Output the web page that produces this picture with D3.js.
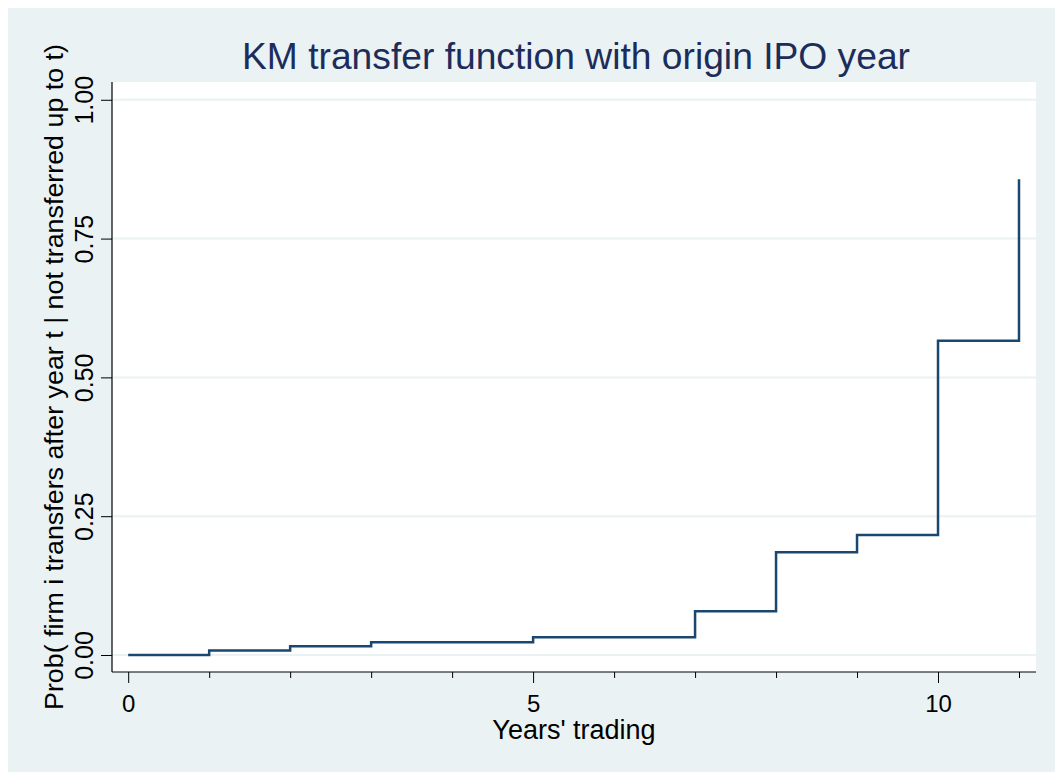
<!DOCTYPE html>
<html>
<head>
<meta charset="utf-8">
<script src="https://cdn.jsdelivr.net/npm/d3@7"></script>
<style>
  body { margin: 0; background: #ffffff; }
  svg { display: block; font-family: "Liberation Sans", Arial, sans-serif; }
</style>
</head>
<body>
<svg id="chart"></svg>
<script>
// data
var years = [0, 1, 2, 3, 4, 5, 6, 7, 8, 9, 10, 11];
var prob = [0, 0.008, 0.016, 0.023, 0.023, 0.032, 0.032, 0.079, 0.185, 0.216, 0.566, 0.857];
var xMajor = [0, 5, 10];
var xMinor = [1, 2, 3, 4, 6, 7, 8, 9, 11];
var yTicks = [0, 0.25, 0.5, 0.75, 1];

var W = 1055, H = 772;
var plot = {left: 112, right: 1036, top: 82, bottom: 672};

var svg = d3.select("#chart").attr("width", W).attr("height", H);

// outer background
svg.append("rect")
  .attr("x", 8).attr("y", 8)
  .attr("width", W - 8).attr("height", H - 8)
  .attr("fill", "#eaf2f3");

// plot region
svg.append("rect")
  .attr("x", plot.left).attr("y", plot.top)
  .attr("width", plot.right - plot.left).attr("height", plot.bottom - plot.top)
  .attr("fill", "#ffffff");

var x = d3.scaleLinear().domain([-0.2, 11.21]).range([plot.left, plot.right]);
var y = d3.scaleLinear().domain([-0.0306, 1.032]).range([plot.bottom, plot.top]);

// gridlines
svg.append("g")
  .selectAll("line")
  .data(yTicks)
  .enter()
  .append("line")
    .attr("x1", plot.left).attr("x2", plot.right)
    .attr("y1", d => y(d)).attr("y2", d => y(d))
    .attr("stroke", "#eaf2f3")
    .attr("stroke-width", 2);

// step line
var line = d3.line()
  .x(d => x(d[0]))
  .y(d => y(d[1]))
  .curve(d3.curveStepAfter);

svg.append("path")
  .datum(years.map((t, i) => [t, prob[i]]))
  .attr("d", line)
  .attr("fill", "none")
  .attr("stroke", "#1a476f")
  .attr("stroke-width", 2.5);

// x axis (major + minor ticks)
var xAxis = svg.append("g")
  .attr("transform", "translate(0," + plot.bottom + ")")
  .call(d3.axisBottom(x).tickValues(xMajor).tickFormat(d3.format("d")).tickSize(11).tickPadding(12));
svg.append("g")
  .attr("transform", "translate(0," + plot.bottom + ")")
  .call(d3.axisBottom(x).tickValues(xMinor).tickFormat("").tickSize(6))
  .select(".domain").remove();

// y axis
var yAxis = svg.append("g")
  .attr("transform", "translate(" + plot.left + ",0)")
  .call(d3.axisLeft(y).tickValues(yTicks).tickFormat(d3.format(".2f")).tickSize(11));

[xAxis, yAxis].forEach(function(g) {
  g.selectAll("text").attr("font-size", "24px").attr("fill", "#000").attr("font-family", "Liberation Sans, Arial, sans-serif");
  g.selectAll("line").attr("stroke", "#000");
});
svg.selectAll(".tick line").attr("stroke", "#000");

// axis lines drawn explicitly over the plot edge
xAxis.select(".domain").remove();
yAxis.select(".domain").remove();
svg.append("line")
  .attr("x1", plot.left).attr("x2", plot.right)
  .attr("y1", plot.bottom).attr("y2", plot.bottom)
  .attr("stroke", "#000").attr("stroke-width", 1.2);
svg.append("line")
  .attr("x1", plot.left).attr("x2", plot.left)
  .attr("y1", plot.top).attr("y2", plot.bottom)
  .attr("stroke", "#000").attr("stroke-width", 1.2);

// rotated y tick labels
yAxis.selectAll(".tick text")
  .attr("x", null).attr("dy", null)
  .attr("font-size", "25px")
  .attr("text-anchor", "middle")
  .attr("transform", "translate(-19,0) rotate(-90)");

// titles
svg.append("text")
  .attr("x", 576).attr("y", 69)
  .attr("text-anchor", "middle")
  .attr("font-size", "36px")
  .attr("fill", "#1c2d5c")
  .attr("textLength", 668)
  .attr("lengthAdjust", "spacingAndGlyphs")
  .text("KM transfer function with origin IPO year");

svg.append("text")
  .attr("x", (plot.left + plot.right) / 2).attr("y", 739)
  .attr("text-anchor", "middle")
  .attr("font-size", "27px")
  .attr("fill", "#000")
  .text("Years' trading");

svg.append("text")
  .attr("transform", "translate(63," + ((plot.top + plot.bottom) / 2) + ") rotate(-90)")
  .attr("text-anchor", "middle")
  .attr("font-size", "25px")
  .attr("fill", "#000")
  .attr("textLength", 666)
  .attr("lengthAdjust", "spacingAndGlyphs")
  .text("Prob( firm i transfers after year t | not transferred up to t)");
</script>
</body>
</html>
